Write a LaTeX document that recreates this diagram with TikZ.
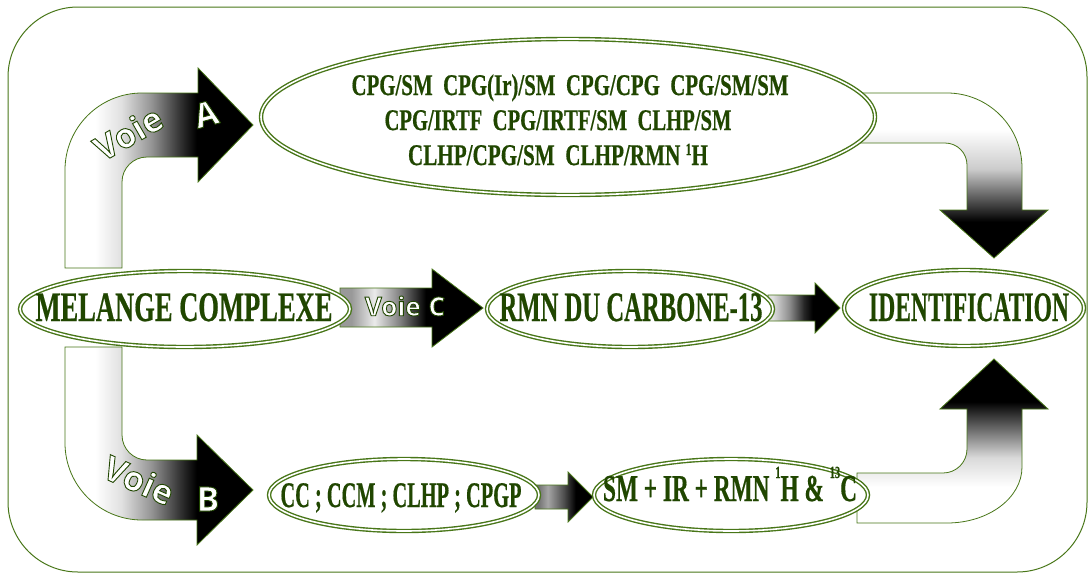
\documentclass[tikz,border=0pt]{standalone}
\usepackage{fontspec}
\usepackage{graphicx}
\setmainfont{Liberation Serif}
\newfontfamily\hvy{Liberation Serif Bold}[FakeBold=0.6]
\newfontfamily\voiefont{Open Sans}
\usetikzlibrary{shapes.geometric}
\definecolor{tgreen}{RGB}{32,70,0}
\definecolor{lgreen}{RGB}{72,118,24}

\pgfdeclarehorizontalshading{shAB}{100bp}{color(0bp)=(white); color(33bp)=(white); color(40bp)=(black!12); color(48bp)=(black!42); color(56bp)=(black!82); color(60bp)=(black); color(100bp)=(black)}
\pgfdeclarehorizontalshading{shC}{100bp}{color(0bp)=(black!40); color(29bp)=(black!40); color(37bp)=(black!8); color(46bp)=(black!50); color(55bp)=(black); color(100bp)=(black)}
\pgfdeclarehorizontalshading{shD}{100bp}{color(0bp)=(black!12); color(28bp)=(black!12); color(40bp)=(black!45); color(50bp)=(black!85); color(56bp)=(black); color(100bp)=(black)}
\pgfdeclarehorizontalshading{shE}{100bp}{color(0bp)=(black!55); color(28bp)=(black!55); color(36bp)=(black!35); color(50bp)=(black!70); color(60bp)=(black); color(100bp)=(black)}
\pgfdeclareverticalshading{shDown}{100bp}{color(0bp)=(black); color(36bp)=(black); color(44bp)=(black!60); color(52bp)=(black!20); color(64bp)=(white); color(100bp)=(white)}
\pgfdeclareverticalshading{shUp}{100bp}{color(0bp)=(white); color(36bp)=(white); color(45bp)=(black!15); color(52bp)=(black!50); color(62bp)=(black); color(100bp)=(black)}

% white letters with a dark green outline (PDF text render mode 2)
\newcommand\olt[1]{{\color{white}\special{pdf:literal direct 1 1 1 rg 0.125 0.275 0 RG 0.9 w 2 Tr}#1\special{pdf:literal direct 0 Tr}}}
\newcommand\fitw[2]{\resizebox{#1}{\height}{#2}}
\newcommand\supr[2]{{\fontsize{17}{17}\selectfont\raisebox{#1}{#2}}}

\begin{document}
\begin{tikzpicture}[x=1pt,y=-1pt,
  frame/.style={draw=lgreen, line width=1pt, rounded corners=70pt},
  arrowbox/.style={draw=lgreen, line width=0.8pt, shade},
  ellbox/.style={ellipse, draw=lgreen, line width=1.4pt, double=white, double distance=1.6pt, fill=white, inner sep=0pt},
  tstyle/.style={text=tgreen, inner sep=0pt, anchor=base, font=\hvy},
  voie/.style={inner sep=0pt, font=\voiefont\bfseries}]
\useasboundingbox (0,0) rectangle (1089,576);
\draw[frame] (8,7) rectangle (1087,572);

% Voie A
\path[arrowbox, shading=shAB] (65,268) -- (65,170) .. controls (65,127.5) and (99.5,93) .. (142,93)
  -- (198,93) -- (198,68) -- (253,125) -- (198,182) -- (198,157) -- (147,157)
  .. controls (133.2,157) and (122,168.2) .. (122,182) -- (122,268) -- cycle;
% Voie B
\path[arrowbox, shading=shAB] (65,347) -- (65,443) .. controls (65,485.5) and (99.5,520) .. (142,520)
  -- (197,520) -- (197,545) -- (253,490) -- (197,435) -- (197,460) -- (147,460)
  .. controls (133.2,460) and (122,448.8) .. (122,435) -- (122,347) -- cycle;
% Voie C
\path[arrowbox, shading=shC] (340,288) -- (432,288) -- (432,269) -- (483,308) -- (432,347) -- (432,327) -- (340,327) -- cycle;
% RMN -> IDENTIFICATION
\path[arrowbox, shading=shD] (768,295) -- (815,295) -- (815,283) -- (840,308) -- (815,333) -- (815,321) -- (768,321) -- cycle;
% CC -> SM
\path[arrowbox, shading=shE] (535,485) -- (568,485) -- (568,472) -- (593,497) -- (568,522) -- (568,509) -- (535,509) -- cycle;
% top right bent arrow
\path[arrowbox, shading=shDown] (860,93) -- (947,93) .. controls (988.4,93) and (1022,126.6) .. (1022,168)
  -- (1022,210) -- (1048,210) -- (994,258) -- (940,210) -- (967,210) -- (967,165)
  .. controls (967,152.8) and (957.2,143) .. (945,143) -- (860,143) -- cycle;
% bottom right bent arrow
\path[arrowbox, shading=shUp] (857,473) -- (943,473) .. controls (956.3,473) and (967,462.3) .. (967,449)
  -- (967,409) -- (940,409) -- (994,359) -- (1048,409) -- (1022,409) -- (1022,467)
  .. controls (1022,498) and (988.4,523) .. (947,523) -- (857,523) -- cycle;

% ellipses
\node[ellbox, minimum width=614pt, minimum height=156pt] (top) at (568,117) {};
\node[ellbox, minimum width=330pt, minimum height=76pt] (mel) at (185,309) {};
\node[ellbox, minimum width=286pt, minimum height=76pt] (rmn) at (630,309) {};
\node[ellbox, minimum width=240pt, minimum height=76pt] (idf) at (964,308) {};
\node[ellbox, minimum width=270pt, minimum height=72pt] (cc) at (404,495) {};
\node[ellbox, minimum width=274pt, minimum height=72pt] (sm) at (731,495) {};

% voie labels
\node[voie, rotate=30] (va) at (128,133) {\fontsize{34}{34}\selectfont\olt{Voie}};
\node[voie, rotate=15] (vaA) at (206,114) {\fontsize{34}{34}\selectfont\olt{A}};
\node[voie, rotate=-24] (vb) at (139,480) {\fontsize{34}{34}\selectfont\olt{Voie}};
\node[voie] (vbB) at (208,499) {\fontsize{34}{34}\selectfont\olt{B}};
\node[voie] (vc) at (405,306) {\fontsize{26}{26}\selectfont\olt{Voie\hspace{0.3em}C}};

% texts
\node[tstyle] (t1) at (570,95) {\fitw{437pt}{\fontsize{30}{30}\selectfont CPG/SM~~CPG(Ir)/SM~~CPG/CPG~~CPG/SM/SM}};
\node[tstyle] (t2) at (558,130) {\fitw{347pt}{\fontsize{30}{30}\selectfont CPG/IRTF~~CPG/IRTF/SM~~CLHP/SM}};
\node[tstyle] (t3) at (558,165) {\fitw{300pt}{\fontsize{30}{30}\selectfont CLHP/CPG/SM~~CLHP/RMN~\supr{10pt}{1}H}};
\node[tstyle] (tmel) at (184,321) {\fitw{297pt}{\fontsize{42}{42}\selectfont MELANGE COMPLEXE}};
\node[tstyle] (trmn) at (631,321) {\fitw{263pt}{\fontsize{42}{42}\selectfont RMN DU CARBONE-13}};
\node[tstyle] (tidf) at (969,321) {\fitw{200pt}{\fontsize{42}{42}\selectfont IDENTIFICATION}};
\node[tstyle] (tcc) at (401,507) {\fitw{241pt}{\fontsize{36}{36}\selectfont CC ; CCM ; CLHP ; CPGP}};
\node[tstyle] (tsm) at (730,501) {\fitw{254pt}{\fontsize{38}{38}\selectfont SM + IR + RMN~\supr{23pt}{1}H \&~\supr{23pt}{13}C}};
\end{tikzpicture}
\end{document}
